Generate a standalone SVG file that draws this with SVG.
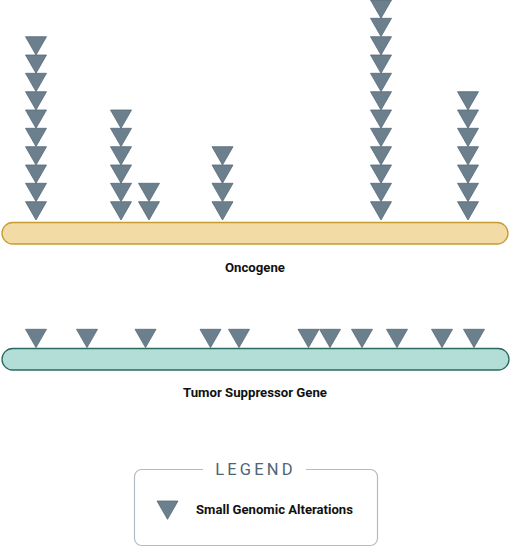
<svg xmlns="http://www.w3.org/2000/svg" xmlns:xlink="http://www.w3.org/1999/xlink" width="510" height="547" viewBox="0 0 510 547">
<style>
.tri{fill:#6c7f8d;stroke:#56697a;stroke-width:0.8;stroke-linejoin:round}
.lbl{font-family:Roboto,"Liberation Sans",sans-serif;font-weight:bold;font-size:13.2px;fill:#111;text-anchor:middle}
.leg{font-family:Roboto,"Liberation Sans",sans-serif;font-weight:400;font-size:16.5px;fill:#4f6577;letter-spacing:3.2px;text-anchor:middle}
.legtxt{font-family:Roboto,"Liberation Sans",sans-serif;font-weight:bold;font-size:13.1px;fill:#111}
</style>
<defs>
<path id="t" class="tri" d="M-10.5,0 H10.5 L0,18.3 Z"/>
</defs>
<rect width="510" height="547" fill="#fff"/>
<g id="oncogene">
<rect x="2" y="222.5" width="506" height="21.5" rx="10.75" fill="#f2dba4" stroke="#c49c32" stroke-width="1.3"/>
<text class="lbl" x="255" y="272">Oncogene</text>
</g>
<g id="oncogene-alterations">
<g id="col1">
<use href="#t" x="36" y="201.7"/><use href="#t" x="36" y="183.3"/><use href="#t" x="36" y="165"/><use href="#t" x="36" y="146.7"/><use href="#t" x="36" y="128.3"/><use href="#t" x="36" y="110"/><use href="#t" x="36" y="91.7"/><use href="#t" x="36" y="73.3"/><use href="#t" x="36" y="55"/><use href="#t" x="36" y="36.7"/>
</g>
<g id="col2">
<use href="#t" x="121" y="201.7"/><use href="#t" x="121" y="183.3"/><use href="#t" x="121" y="165"/><use href="#t" x="121" y="146.7"/><use href="#t" x="121" y="128.3"/><use href="#t" x="121" y="110"/>
</g>
<g id="col3">
<use href="#t" x="149" y="201.7"/><use href="#t" x="149" y="183.3"/>
</g>
<g id="col4">
<use href="#t" x="222.5" y="201.7"/><use href="#t" x="222.5" y="183.3"/><use href="#t" x="222.5" y="165"/><use href="#t" x="222.5" y="146.7"/>
</g>
<g id="col5">
<use href="#t" x="381" y="201.7"/><use href="#t" x="381" y="183.3"/><use href="#t" x="381" y="165"/><use href="#t" x="381" y="146.7"/><use href="#t" x="381" y="128.3"/><use href="#t" x="381" y="110"/><use href="#t" x="381" y="91.7"/><use href="#t" x="381" y="73.3"/><use href="#t" x="381" y="55"/><use href="#t" x="381" y="36.7"/><use href="#t" x="381" y="18.3"/><use href="#t" x="381" y="0"/>
</g>
<g id="col6">
<use href="#t" x="468" y="201.7"/><use href="#t" x="468" y="183.3"/><use href="#t" x="468" y="165"/><use href="#t" x="468" y="146.7"/><use href="#t" x="468" y="128.3"/><use href="#t" x="468" y="110"/><use href="#t" x="468" y="91.7"/>
</g>
</g>
<g id="tumor-suppressor">
<rect x="2" y="348.5" width="507" height="21.5" rx="10.75" fill="#b3ded8" stroke="#2b6b5f" stroke-width="1.3"/>
<text class="lbl" x="255" y="397">Tumor Suppressor Gene</text>
</g>
<g id="tsg-alterations">
<use href="#t" x="36" y="329.3"/><use href="#t" x="87" y="329.3"/><use href="#t" x="145.5" y="329.3"/><use href="#t" x="210.5" y="329.3"/><use href="#t" x="239" y="329.3"/><use href="#t" x="308.5" y="329.3"/><use href="#t" x="330" y="329.3"/><use href="#t" x="362" y="329.3"/><use href="#t" x="397" y="329.3"/><use href="#t" x="442" y="329.3"/><use href="#t" x="474" y="329.3"/>
</g>
<g id="legend">
<rect x="134.5" y="469.5" width="243" height="76" rx="7" fill="#fff" stroke="#b3bcc4" stroke-width="1.2"/>
<rect x="203" y="462" width="103" height="14" fill="#fff"/>
<text class="leg" x="255.5" y="474.5">LEGEND</text>
<use href="#t" x="167.5" y="501"/>
<text class="legtxt" x="196" y="514">Small Genomic Alterations</text>
</g>
</svg>
